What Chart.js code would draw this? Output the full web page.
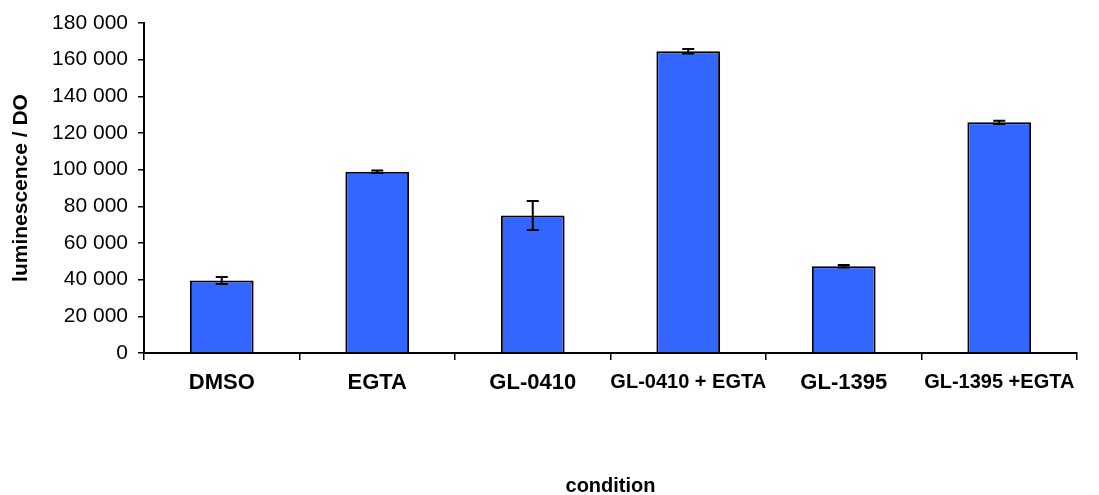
<!DOCTYPE html>
<html>
<head>
<meta charset="utf-8">
<script src="https://cdn.jsdelivr.net/npm/chart.js@4.4.1/dist/chart.umd.min.js"></script>
<style>
    body { margin: 0; background: #fff; }
    #wrap { width: 1099px; height: 495px; position: relative; }
</style>
</head>
<body>
<div id="wrap"><canvas id="barChart"></canvas></div>
<script>
const conditions = ["DMSO", "EGTA", "GL-0410", "GL-0410 + EGTA", "GL-1395", "GL-1395 +EGTA"];
const luminescence = [39600, 98900, 75000, 164600, 47300, 125800];
const errors = [1900, 700, 7900, 1200, 700, 900];
const yTicks = [0, 20000, 40000, 60000, 80000, 100000, 120000, 140000, 160000, 180000];

const fontFamily = "'Liberation Sans', Arial, sans-serif";

// thousands with a space, like "120 000"
function spaced(v) {
    return String(v).replace(/\B(?=(\d{3})+(?!\d))/g, " ");
}

const errorBars = {
    id: "errorBars",
    afterDatasetsDraw(chart) {
        const ctx = chart.ctx;
        const y = chart.scales.y;
        const meta = chart.getDatasetMeta(0);
        ctx.save();
        ctx.strokeStyle = "#000";
        ctx.lineWidth = 2;
        meta.data.forEach((bar, i) => {
            const top = y.getPixelForValue(luminescence[i] + errors[i]);
            const bottom = y.getPixelForValue(luminescence[i] - errors[i]);
            ctx.beginPath();
            ctx.moveTo(bar.x, top);
            ctx.lineTo(bar.x, bottom);
            ctx.moveTo(bar.x - 6, top);
            ctx.lineTo(bar.x + 6, top);
            ctx.moveTo(bar.x - 6, bottom);
            ctx.lineTo(bar.x + 6, bottom);
            ctx.stroke();
        });
        ctx.restore();
    }
};

new Chart(document.getElementById("barChart"), {
    type: "bar",
    data: {
        labels: conditions,
        datasets: [{
            data: luminescence,
            backgroundColor: "#3366FF",
            borderColor: "#000",
            borderWidth: 2,
            barPercentage: 0.41,
            categoryPercentage: 1
        }]
    },
    options: {
        responsive: true,
        maintainAspectRatio: false,
        animation: false,
        layout: { padding: { top: 23, right: 22, bottom: 0, left: 0 } },
        plugins: {
            legend: { display: false },
            tooltip: { enabled: false }
        },
        scales: {
            x: {
                grid: {
                    offset: true,
                    drawOnChartArea: false,
                    drawTicks: true,
                    tickLength: 7,
                    color: "#000",
                    lineWidth: 1.5
                },
                border: { display: true, color: "#000", width: 2 },
                ticks: {
                    color: "#000",
                    padding: 10,
                    maxRotation: 0,
                    autoSkip: false,
                    font: (c) => ({
                        family: fontFamily,
                        weight: "bold",
                        size: conditions[c.index] && conditions[c.index].length > 8 ? 20 : 22
                    })
                },
                title: {
                    display: true,
                    text: "condition",
                    color: "#000",
                    font: { family: fontFamily, weight: "bold", size: 20 },
                    padding: { top: 0, bottom: -3 }
                },
                afterFit(scale) { scale.height = 142; }
            },
            y: {
                min: 0,
                max: 180000,
                afterBuildTicks(scale) {
                    scale.ticks = yTicks.map(v => ({ value: v }));
                },
                grid: {
                    drawOnChartArea: false,
                    drawTicks: true,
                    tickLength: 6,
                    color: "#000",
                    lineWidth: 1.5
                },
                border: { display: true, color: "#000", width: 2 },
                ticks: {
                    color: "#000",
                    padding: 10,
                    font: { family: fontFamily, size: 21 },
                    callback: (v) => spaced(v)
                },
                title: {
                    display: true,
                    text: "luminescence / DO",
                    color: "#000",
                    font: { family: fontFamily, weight: "bold", size: 21 },
                    padding: { top: 9, bottom: 0 }
                },
                afterFit(scale) { scale.width = 144; }
            }
        }
    },
    plugins: [errorBars]
});
</script>
</body>
</html>
